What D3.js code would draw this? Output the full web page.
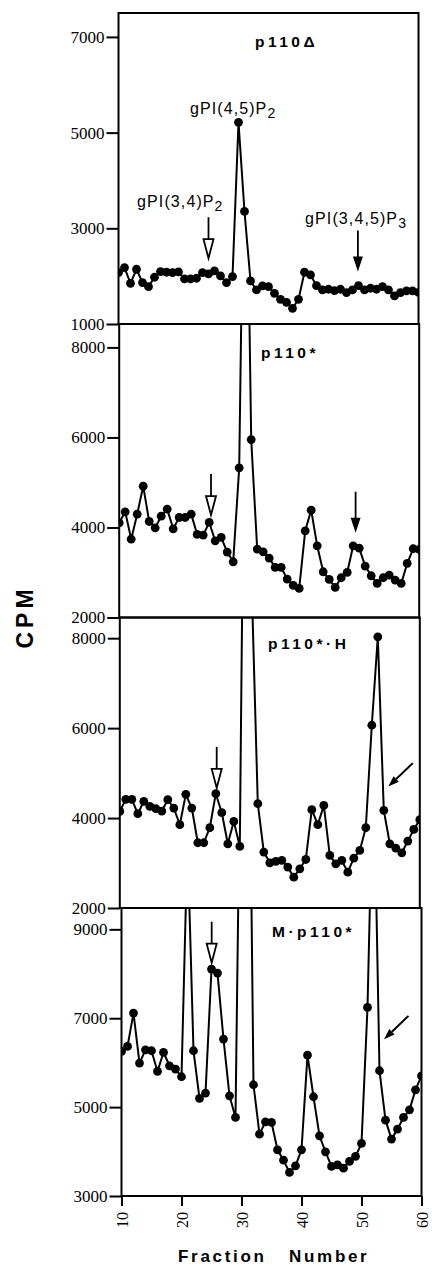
<!DOCTYPE html>
<html><head><meta charset="utf-8">
<script src="https://cdn.jsdelivr.net/npm/d3@7"></script>
<style>body{margin:0;background:#fff}svg{display:block}</style>
</head><body><svg id="c" width="432" height="1268"></svg>
<script>
// ---------- data ----------
const fractions = [10,11,12,13,14,15,16,17,18,19,20,21,22,23,24,25,26,27,28,29,30,31,32,33,34,35,36,37,38,39,40,41,42,43,44,45,46,47,48,49,50,51,52,53,54,55,56,57,58,59,60];
const cpmP110Delta = [2075,2179,1851,2144,1865,1781,1977,2096,2082,2075,
  2089,1942,1942,1956,2075,2047,2110,2005,1865,1991,
  5215,3352,1900,1712,1795,1781,1642,1516,1454,1328,
  1516,2082,2026,1802,1712,1726,1698,1726,1656,1712,
  1802,1712,1747,1726,1781,1712,1586,1656,1691,1691,1663];
const cpmP110Star = [4104,4348,3741,4296,4917,4133,3993,4251,4407,3970,
  4222,4222,4296,3845,3830,4111,3704,3778,3453,3238,
  5324,15000,5953,3519,3460,3320,3112,3112,2853,2713,
  2646,3926,4385,3593,3016,2846,2669,2883,3001,3593,
  3541,3142,2927,2757,2883,2942,2831,2757,3201,3527,3512];
const cpmP110StarH = [4148,4416,4416,4097,4371,4260,4208,4156,4408,4223,
  3852,4527,4223,3451,3451,3785,4542,4119,3428,3926,
  3369,16900,9100,4319,3243,3005,3035,3057,2909,2686,
  2872,3079,4186,3852,4282,3169,2983,3057,2797,3109,
  3280,3785,6064,8031,4171,3428,3332,3228,3488,3748,3963];
const cpmMP110Star = [6253,6365,7115,5990,6290,6268,5803,6230,5930,5855,
  5683,11000,6268,5195,5315,8106,8016,6530,5255,4767,
  15250,17500,5503,4392,4670,4655,4040,3807,3530,3680,
  4040,6170,5233,4355,3995,3665,3702,3627,3777,3890,
  4182,7243,13000,5818,4707,4280,4505,4767,4940,5390,5705];
const panelTitles = ["p110Δ","p110*","p110*·H","M·p110*"];
const yDomains = [[1000,7500],[2000,8520],[2000,8460],[3000,9480]];
const yTicks = [[1000,3000,5000,7000],[2000,4000,6000,8000],[2000,4000,6000,8000],[3000,5000,7000,9000]];
const xTicks = [10,20,30,40,50,60];
const xDomain = [10,60];
// annotations (data coordinates of arrow tips / label anchors)
const openArrows = [{p:0,f:25,v:2375},{p:1,f:25.3,v:4276},{p:2,f:26.15,v:4671},{p:3,f:25.03,v:8249}];
const solidArrows = [{p:0,f:49.9,v:2095},{p:1,f:49.4,v:3883}];
const diagArrows = [{p:2,f:54.75,v:4700},{p:3,f:53.75,v:6525}];
const peakLabels = [
  {p:0,f:21.9,v:5395,main:"gPI(4,5)P",sub:"2"},
  {p:0,f:13.1,v:3449,main:"gPI(3,4)P",sub:"2"},
  {p:0,f:41.1,v:3093,main:"gPI(3,4,5)P",sub:"3"}
];

// ---------- layout ----------
const series = [cpmP110Delta,cpmP110Star,cpmP110StarH,cpmMP110Star];
const panelEdges = [13,324,617.5,908,1196];
const panelLeft = [118.5,119.2,119.8,121.5];
const plotW = 300;
const titleX = [255,261,268,272];
const titleDy = [34,34,31,29];

const svg = d3.select("#c");
const serif = "'Liberation Serif','Times New Roman',serif";
const sans = "'Liberation Sans',Arial,Helvetica,sans-serif";

const defs = svg.append("defs");
const panels = [];
series.forEach((vals,i)=>{
  const top = panelEdges[i], bot = panelEdges[i+1];
  const x = d3.scaleLinear().domain(xDomain).range([panelLeft[i], panelLeft[i]+plotW]);
  const y = d3.scaleLinear().domain(yDomains[i]).range([bot, top]);
  panels.push({x,y,top,bot});
  defs.append("clipPath").attr("id","clip"+i).append("rect")
    .attr("x",panelLeft[i]).attr("y",top).attr("width",plotW).attr("height",bot-top);

  const g = svg.append("g");
  const pts = fractions.map((f,k)=>({f,v:vals[k]}));
  const cg = g.append("g").attr("clip-path","url(#clip"+i+")");
  cg.append("path").datum(pts)
    .attr("fill","none").attr("stroke","#000").attr("stroke-width",2).attr("stroke-linejoin","round")
    .attr("d", d3.line().x(d=>x(d.f)).y(d=>y(d.v)));
  cg.selectAll("circle").data(pts).join("circle")
    .attr("cx",d=>x(d.f)).attr("cy",d=>y(d.v)).attr("r",4.4).attr("fill","#000");

  // frame
  g.append("rect").attr("x",panelLeft[i]).attr("y",top).attr("width",plotW).attr("height",bot-top)
    .attr("fill","none").attr("stroke","#000").attr("stroke-width",2);

  // y axis
  const ya = g.append("g").attr("transform",`translate(${panelLeft[i]},0)`)
    .call(d3.axisLeft(y).tickValues(yTicks[i]).tickSize(12).tickPadding(2).tickFormat(d3.format("d")));
  ya.select(".domain").remove();
  ya.selectAll("line").attr("stroke-width",2);
  ya.selectAll("text").attr("font-family",serif).attr("font-size",17).attr("fill","#000");

  // title
  g.append("text").attr("x",titleX[i]).attr("y",top+titleDy[i])
    .attr("font-family",sans).attr("font-weight","bold").attr("font-size",15.5)
    .attr("letter-spacing",3.5).text(panelTitles[i]);
});

// x axis on bottom panel
const P4 = panels[3];
const xa = svg.append("g").attr("transform",`translate(0,${P4.bot})`)
  .call(d3.axisBottom(P4.x).tickValues(xTicks).tickSize(10).tickPadding(6));
xa.select(".domain").remove();
xa.selectAll("line").attr("stroke-width",2);
xa.selectAll("text").attr("font-family",serif).attr("font-size",16).attr("fill","#000")
  .attr("transform","rotate(-90)").attr("x",-16).attr("y",0).attr("dy","0.35em")
  .style("text-anchor","end");

// axis titles
svg.append("text").attr("transform","translate(33,617) rotate(-90)")
  .attr("text-anchor","middle").attr("font-family",sans).attr("font-weight","bold")
  .attr("font-size",23).attr("letter-spacing",4).text("CPM");
const xt = svg.append("text").attr("y",1262).attr("font-family",sans).attr("font-weight","bold")
  .attr("font-size",17).attr("letter-spacing",2.7);
xt.append("tspan").attr("x",178).text("Fraction");
xt.append("tspan").attr("x",289).text("Number");

// peak labels
peakLabels.forEach(l=>{
  const P = panels[l.p];
  const t = svg.append("text").attr("x",P.x(l.f)).attr("y",P.y(l.v))
    .attr("font-family",sans).attr("font-size",16).attr("letter-spacing",1.1);
  t.append("tspan").text(l.main);
  t.append("tspan").attr("dy",4).attr("font-size",14).text(l.sub);
});

// open (hollow-head) vertical arrows
openArrows.forEach(a=>{
  const P = panels[a.p]; const tx = P.x(a.f), ty = P.y(a.v);
  const len = 41, head = 19, hw = 5;
  svg.append("line").attr("x1",tx).attr("x2",tx).attr("y1",ty-len).attr("y2",ty-head)
    .attr("stroke","#000").attr("stroke-width",1.8);
  svg.append("path").attr("d",`M${tx-hw},${ty-head}L${tx+hw},${ty-head}L${tx},${ty}Z`)
    .attr("fill","#fff").attr("stroke","#000").attr("stroke-width",1.8).attr("stroke-linejoin","miter");
});
// solid vertical arrows
solidArrows.forEach(a=>{
  const P = panels[a.p]; const tx = P.x(a.f), ty = P.y(a.v);
  const len = 41, head = 15, hw = 5;
  svg.append("line").attr("x1",tx).attr("x2",tx).attr("y1",ty-len).attr("y2",ty-head+1)
    .attr("stroke","#000").attr("stroke-width",1.8);
  svg.append("path").attr("d",`M${tx-hw},${ty-head}L${tx+hw},${ty-head}L${tx},${ty}Z`).attr("fill","#000");
});
// diagonal arrows (pointing down-left)
diagArrows.forEach(a=>{
  const P = panels[a.p]; const tx = P.x(a.f), ty = P.y(a.v);
  const dx = 0.72, dy = -0.69, len = 34, head = 11, hw = 3.8;
  const bx = tx+dx*head, by = ty+dy*head;
  const nx = -dy, ny = dx;
  svg.append("line").attr("x1",tx+dx*len).attr("y1",ty+dy*len).attr("x2",bx).attr("y2",by)
    .attr("stroke","#000").attr("stroke-width",2);
  svg.append("path").attr("d",`M${bx+nx*hw},${by+ny*hw}L${bx-nx*hw},${by-ny*hw}L${tx},${ty}Z`).attr("fill","#000");
});
</script></body></html>
